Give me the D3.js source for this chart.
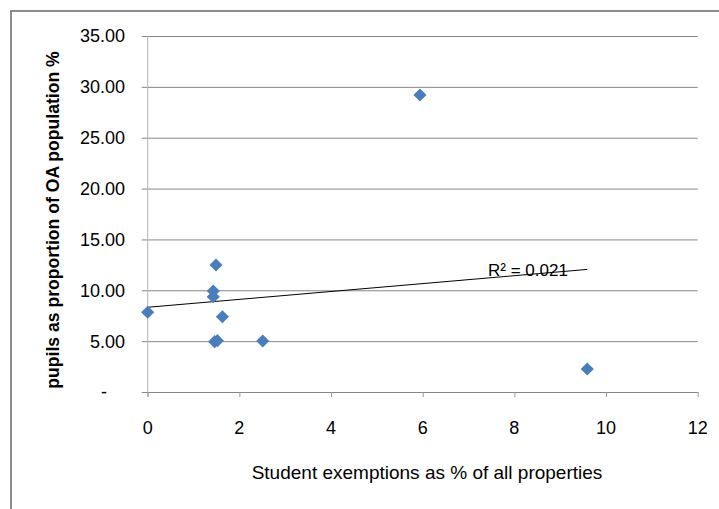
<!DOCTYPE html>
<html>
<head>
<meta charset="utf-8">
<script src="https://cdn.jsdelivr.net/npm/d3@7"></script>
<style>
  html, body { margin: 0; padding: 0; background: #fff; }
  svg { display: block; }
  text { font-family: "Liberation Sans", Arial, sans-serif; fill: #000; }
</style>
</head>
<body>
<svg id="chart" width="719" height="509"></svg>
<script>
// Student exemptions (% of all properties) vs pupils (% of OA population)
const exemptionsPct = [0.00, 1.43, 1.43, 1.49, 1.63, 1.46, 1.52, 2.51, 5.94, 9.59];
const pupilsPct     = [7.84, 9.93, 9.37, 12.49, 7.40, 4.95, 5.05, 5.01, 29.20, 2.26];

// Linear trendline (intercept, slope) and its R² label
const trendIntercept = 8.33;
const trendSlope = 0.388;
const rSquaredLabel = "R² = 0.021";

const xTicks = [0, 2, 4, 6, 8, 10, 12];
const yTicks = [0, 5, 10, 15, 20, 25, 30, 35];

const xTitle = "Student exemptions as % of all properties";
const yTitle = "pupils as proportion of OA population  %";

const svg = d3.select("#chart");
const W = 719, H = 509;

// Chart area frame
svg.append("rect")
  .attr("x", 11).attr("y", 11)
  .attr("width", W + 10).attr("height", H + 10)
  .attr("fill", "#fff")
  .attr("stroke", "#8c8c8c").attr("stroke-width", 2);

const x = d3.scaleLinear().domain([0, 12]).range([147.7, 697.7]);
const y = d3.scaleLinear().domain([0, 35]).range([392, 36]);

// Horizontal gridlines (with short outward ticks on the left)
const yAxis = d3.axisLeft(y)
  .tickValues(yTicks)
  .tickSize(-(x.range()[1] - x.range()[0]))
  .tickSizeOuter(0)
  .tickPadding(0)
  .tickFormat(() => "");
const gy = svg.append("g").attr("transform", `translate(${x(0)},0)`).call(yAxis);
gy.select(".domain").remove();
gy.selectAll(".tick line")
  .attr("x1", -6)
  .attr("stroke", "#868686").attr("stroke-width", 1);

// Y tick labels
svg.append("g").selectAll("text")
  .data(yTicks)
  .join("text")
  .attr("x", 125)
  .attr("y", d => y(d))
  .attr("dy", "0.36em")
  .attr("text-anchor", "end")
  .style("font-size", "18px")
  .text(d => d === 0 ? "-\u2002\u2002" : d3.format(".2f")(d));

// Vertical axis line
svg.append("line")
  .attr("x1", x(0)).attr("x2", x(0))
  .attr("y1", y(35)).attr("y2", y(0) + 5)
  .attr("stroke", "#b4b4b4").attr("stroke-width", 1);

// X axis with tick marks
const xAxis = d3.axisBottom(x)
  .tickValues(xTicks)
  .tickSize(5)
  .tickSizeOuter(0)
  .tickFormat("");
const gx = svg.append("g").attr("transform", `translate(0,${y(0)})`).call(xAxis);
gx.select(".domain").attr("stroke", "#868686");
gx.selectAll(".tick line").attr("stroke", "#9a9a9a");

svg.append("g").selectAll("text")
  .data(xTicks)
  .join("text")
  .attr("x", d => x(d))
  .attr("y", 428)
  .attr("dy", "0.36em")
  .attr("text-anchor", "middle")
  .style("font-size", "18px")
  .text(d => d);

// Axis titles
svg.append("text")
  .attr("x", 427).attr("y", 472)
  .attr("dy", "0.36em")
  .attr("text-anchor", "middle")
  .style("font-size", "19px")
  .text(xTitle);

svg.append("text")
  .attr("transform", "translate(53,220) rotate(-90)")
  .attr("dy", "0.36em")
  .attr("text-anchor", "middle")
  .style("font-size", "17.6px")
  .style("font-weight", "bold")
  .text(yTitle);

// Trendline across the data range
const xMin = d3.min(exemptionsPct), xMax = d3.max(exemptionsPct);
svg.append("line")
  .attr("x1", x(xMin)).attr("y1", y(trendIntercept + trendSlope * xMin))
  .attr("x2", x(xMax)).attr("y2", y(trendIntercept + trendSlope * xMax))
  .attr("stroke", "#000").attr("stroke-width", 1);

// Diamond markers
const diamond = {
  draw(ctx, size) {
    const r = Math.sqrt(size) * 0.62625;
    ctx.moveTo(0, -r); ctx.lineTo(r, 0); ctx.lineTo(0, r); ctx.lineTo(-r, 0); ctx.closePath();
  }
};
const pts = exemptionsPct.map((v, i) => ({ x: v, y: pupilsPct[i] }));
svg.append("g").selectAll("path")
  .data(pts)
  .join("path")
  .attr("transform", d => `translate(${x(d.x)},${y(d.y)})`)
  .attr("d", d3.symbol(diamond, 110))
  .attr("fill", "#4a7ebb");

// R² label
svg.append("text")
  .attr("x", 488).attr("y", 270)
  .attr("dy", "0.36em")
  .style("font-size", "17px")
  .text(rSquaredLabel);
</script>
</body>
</html>
